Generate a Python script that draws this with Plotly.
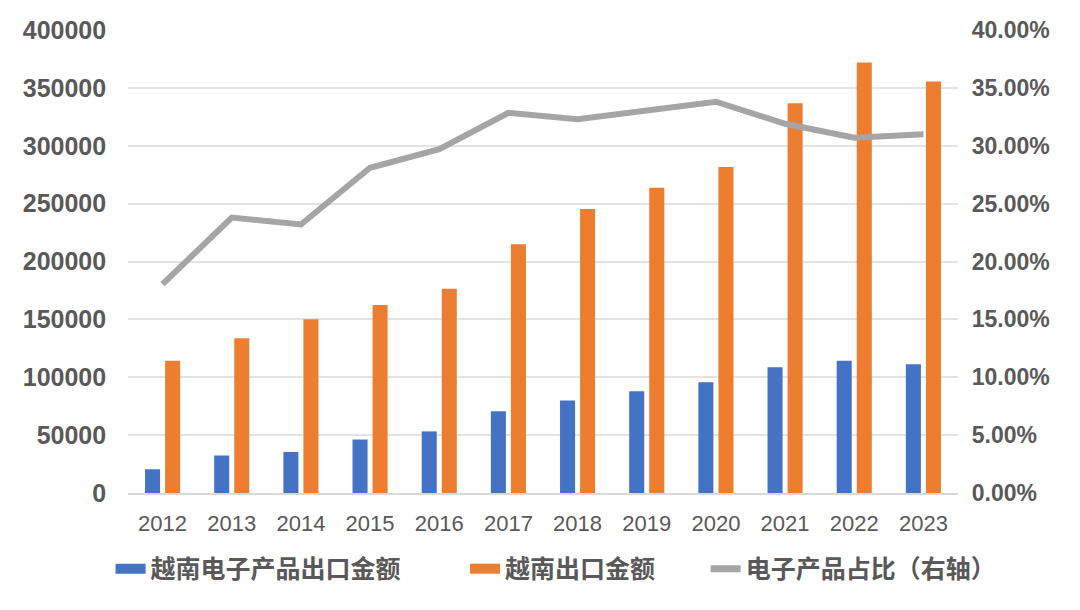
import plotly.graph_objects as go

years = ["2012", "2013", "2014", "2015", "2016", "2017",
         "2018", "2019", "2020", "2021", "2022", "2023"]

# 越南电子产品出口金额
electronics_export = [20500, 32400, 35500, 46200, 53200, 70700,
                      80000, 88000, 95600, 108600, 114300, 111200]

# 越南出口金额
total_export = [114300, 133700, 150100, 162500, 176400, 215000,
                245400, 263800, 281700, 336800, 372000, 355600]

# 电子产品占比（右轴）
share = [0.1804, 0.238, 0.232, 0.281, 0.297, 0.3285,
         0.323, 0.330, 0.338, 0.319, 0.307, 0.310]

names = ["越南电子产品出口金额", "越南出口金额", "电子产品占比（右轴）"]
colors = ["#4472C4", "#ED7D31", "#A5A5A5"]

GREY_TEXT = "#595959"
GRID = "#E3E3E3"

fig = go.Figure()

fig.add_trace(go.Bar(
    x=years, y=electronics_export, name=names[0],
    marker=dict(color=colors[0]), showlegend=False,
))
fig.add_trace(go.Bar(
    x=years, y=total_export, name=names[1],
    marker=dict(color=colors[1]), showlegend=False,
))
fig.add_trace(go.Scatter(
    x=years, y=share, name=names[2], yaxis="y2",
    mode="lines", line=dict(color=colors[2], width=6), showlegend=False,
))

# legend entries: wide flat swatches like the Excel legend, one legend box each
legend_ids = ["legend", "legend2", "legend3"]
for name, color, width, lg in zip(names, colors, [11, 11, 7], legend_ids):
    fig.add_trace(go.Scatter(
        x=[None], y=[None], name=name, mode="lines",
        line=dict(color=color, width=width), legend=lg,
    ))

legend_font = dict(family="Noto Sans CJK SC", size=25, color=GREY_TEXT, weight="bold")
legend_x = [-0.021, 0.406, 0.696]
legends = {}
for lg, lx in zip(legend_ids, legend_x):
    legends[lg] = dict(
        orientation="h", x=lx, xanchor="left", y=-0.164, yanchor="middle",
        font=legend_font, itemwidth=30, bgcolor="rgba(0,0,0,0)",
    )

fig.update_layout(
    template="none",
    width=1080, height=610,
    margin=dict(l=120, r=130, t=22, b=125),
    paper_bgcolor="white",
    plot_bgcolor="white",
    barmode="group",
    bargap=0.42,
    bargroupgap=0.25,
    font=dict(family="Liberation Sans, Arial", color=GREY_TEXT, size=20),
    xaxis=dict(
        type="category", automargin=False,
        showgrid=False,
        showline=True, linecolor="#D9D9D9", linewidth=2,
        ticks="", tickfont=dict(size=22, color=GREY_TEXT),
        ticklabelstandoff=10,
    ),
    yaxis=dict(
        range=[0, 400000], dtick=50000, automargin=False,
        showgrid=True, gridcolor=GRID, gridwidth=1.5,
        zeroline=False, showline=False, ticks="",
        tickformat="d",
        tickfont=dict(size=25, color=GREY_TEXT, weight="bold"),
        ticksuffix="   ",
    ),
    yaxis2=dict(
        range=[0, 0.4], dtick=0.05, overlaying="y", side="right",
        automargin=False,
        showgrid=False, zeroline=False, showline=False, ticks="",
        tickformat=".2%",
        tickfont=dict(size=23, color=GREY_TEXT, weight="bold"),
        tickprefix="  ",
    ),
    showlegend=True,
    **legends,
)

fig.write_html("out.html")
